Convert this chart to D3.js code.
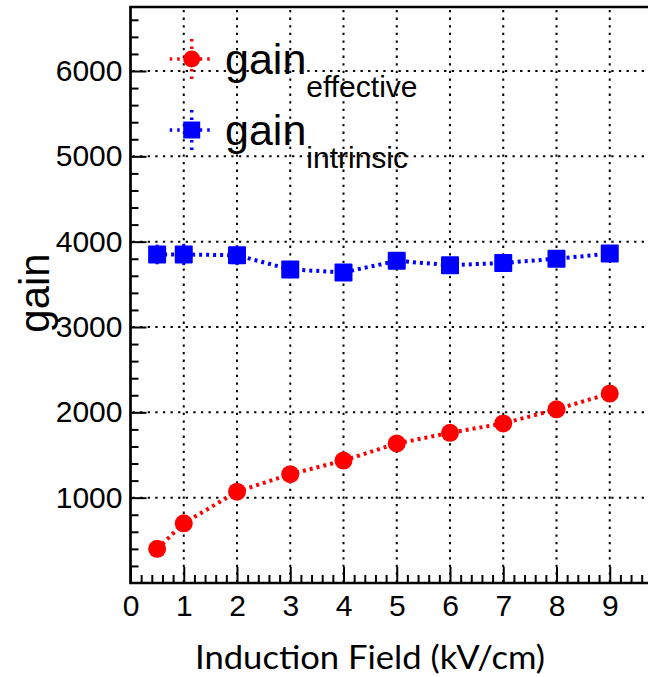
<!DOCTYPE html>
<html>
<head>
<meta charset="utf-8">
<script src="https://cdn.jsdelivr.net/npm/d3@7"></script>
<style>
  body { margin: 0; background: #fff; }
  svg { display: block; }
  text { font-family: "Liberation Sans", Arial, Helvetica, sans-serif; fill: #000; }
</style>
</head>
<body>
<div id="chart"></div>
<script>
// induction field values (kV/cm)
var field = [0.5, 1, 2, 3, 4, 5, 6, 7, 8, 9];
// effective gain and its errors
var gainEffective = [400, 700, 1070, 1275, 1435, 1635, 1760, 1870, 2035, 2220];
var errEffective = [40, 40, 40, 40, 40, 40, 40, 40, 40, 40];
// intrinsic gain and its errors
var gainIntrinsic = [3850, 3850, 3840, 3675, 3640, 3775, 3725, 3750, 3800, 3860];
var errIntrinsic = [115, 125, 115, 60, 60, 60, 60, 60, 60, 60];
// axis ticks
var xTicks = [0, 1, 2, 3, 4, 5, 6, 7, 8, 9];
var yTicks = [1000, 2000, 3000, 4000, 5000, 6000];

function draw(el) {
    var width = 648, height = 677;
    d3.select(el).selectAll("*").remove();

    var svg = d3.select(el).append("svg")
        .attr("width", width)
        .attr("height", height);

    var x = d3.scaleLinear().domain([0, 10]).range([130.5, 663]);
    var y = d3.scaleLinear().domain([0, 6750]).range([583, 7]);

    var xMinor = d3.range(0, 10.01, 0.2).filter(function (v) { return Math.abs(v - Math.round(v)) > 1e-6; });
    var yMinor = d3.range(0, 6750, 200).filter(function (v) { return v % 1000 !== 0; });

    // grid
    var grid = svg.append("g").attr("class", "grid")
        .attr("stroke", "#000").attr("stroke-width", 2)
        .attr("stroke-dasharray", "2.3,5.3");
    grid.selectAll(".vg").data(xTicks.filter(function (d) { return d > 0; }))
        .enter().append("line")
        .attr("x1", function (d) { return x(d); }).attr("x2", function (d) { return x(d); })
        .attr("y1", y(6750) + 3).attr("y2", y(0));
    grid.selectAll(".hg").data(yTicks)
        .enter().append("line")
        .attr("x1", x(0) + 2).attr("x2", width)
        .attr("y1", function (d) { return y(d); }).attr("y2", function (d) { return y(d); });

    // axes
    svg.append("g").attr("transform", "translate(0," + y(0) + ")")
        .call(d3.axisBottom(x).tickValues(xTicks).tickSize(-16).tickPadding(12).tickFormat(d3.format("d")));
    svg.append("g").attr("transform", "translate(0," + y(0) + ")")
        .call(d3.axisBottom(x).tickValues(xMinor).tickSize(-8).tickFormat(""));
    svg.append("g").attr("transform", "translate(" + x(0) + ",0)")
        .call(d3.axisLeft(y).tickValues(yTicks).tickSize(-16).tickPadding(8).tickFormat(d3.format("d")));
    svg.append("g").attr("transform", "translate(" + x(0) + ",0)")
        .call(d3.axisLeft(y).tickValues(yMinor).tickSize(-8).tickFormat(""));

    svg.selectAll(".domain").remove();
    svg.selectAll(".tick line").attr("stroke", "#000").attr("stroke-width", 2);
    svg.selectAll(".tick text").style("font-size", "30px").style("font-family", "Liberation Sans, Arial, sans-serif");

    // frame
    svg.append("path")
        .attr("d", "M" + width + "," + y(6750) + "H" + x(0) + "V" + y(0) + "H" + width)
        .attr("fill", "none").attr("stroke", "#000").attr("stroke-width", 2.7);

    // series
    var series = [
        { name: "effective", values: gainEffective, errors: errEffective, color: "#ff0000", shape: "circle" },
        { name: "intrinsic", values: gainIntrinsic, errors: errIntrinsic, color: "#0000ff", shape: "square" }
    ];

    var line = d3.line()
        .x(function (d) { return x(d[0]); })
        .y(function (d) { return y(d[1]); });

    series.forEach(function (s) {
        var pts = field.map(function (f, i) { return [f, s.values[i], s.errors[i]]; });
        var g = svg.append("g");
        g.append("path")
            .datum(pts)
            .attr("d", line)
            .attr("fill", "none")
            .attr("stroke", s.color)
            .attr("stroke-width", 4)
            .attr("stroke-dasharray", "3,4");
        g.selectAll(".err").data(pts).enter().append("line")
            .attr("x1", function (d) { return x(d[0]); }).attr("x2", function (d) { return x(d[0]); })
            .attr("y1", function (d) { return y(d[1] - d[2]); }).attr("y2", function (d) { return y(d[1] + d[2]); })
            .attr("stroke", s.color).attr("stroke-width", 3);
        if (s.shape === "circle") {
            g.selectAll(".pt").data(pts).enter().append("circle")
                .attr("cx", function (d) { return x(d[0]); })
                .attr("cy", function (d) { return y(d[1]); })
                .attr("r", 9)
                .attr("fill", s.color);
        } else {
            g.selectAll(".pt").data(pts).enter().append("rect")
                .attr("x", function (d) { return x(d[0]) - 9; })
                .attr("y", function (d) { return y(d[1]) - 9; })
                .attr("width", 18).attr("height", 18)
                .attr("rx", 1)
                .attr("fill", s.color);
        }
    });

    // legend
    var legendY = [59, 130];
    series.forEach(function (s, i) {
        var cx = 191.7, cy = legendY[i];
        var lg = svg.append("g");
        lg.append("line").attr("x1", cx - 22).attr("x2", cx + 22).attr("y1", cy).attr("y2", cy)
            .attr("stroke", s.color).attr("stroke-width", 3.5).attr("stroke-dasharray", "2.5,5");
        lg.append("line").attr("x1", cx).attr("x2", cx).attr("y1", cy - 20).attr("y2", cy + 21)
            .attr("stroke", s.color).attr("stroke-width", 3.5).attr("stroke-dasharray", "2.5,5");
        if (s.shape === "circle") {
            lg.append("circle").attr("cx", cx).attr("cy", cy).attr("r", 8.5).attr("fill", s.color);
        } else {
            lg.append("rect").attr("x", cx - 8.5).attr("y", cy - 8.5).attr("width", 17).attr("height", 17).attr("fill", s.color);
        }
        var t = lg.append("text").attr("x", 225).attr("y", cy + 15).style("font-size", "43px");
        t.append("tspan").text("gain");
        t.append("tspan").attr("dy", 23).style("font-size", "30px").text(s.name);
    });

    // axis titles
    svg.append("text")
        .attr("transform", "translate(49,293) rotate(-90)")
        .attr("text-anchor", "middle")
        .style("font-size", "42px")
        .text("gain");

    svg.append("text")
        .attr("x", 370).attr("y", 669)
        .attr("text-anchor", "middle")
        .attr("textLength", 350)
        .attr("lengthAdjust", "spacingAndGlyphs")
        .style("font-family", "Lato, 'Open Sans', sans-serif")
        .style("font-size", "32px")
        .text("Induction Field (kV/cm)");
}

draw("#chart");
</script>
</body>
</html>
